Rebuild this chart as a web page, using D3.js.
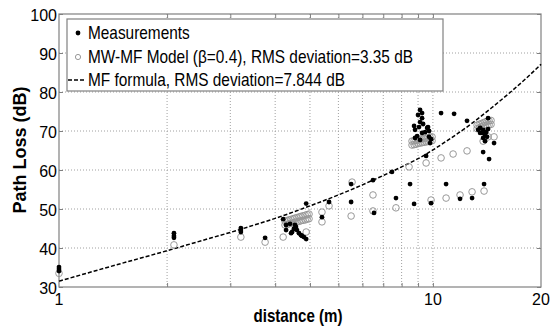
<!DOCTYPE html>
<meta charset="utf-8">
<html>
<head>
<script src="https://d3js.org/d3.v7.min.js"></script>
<style>
  body { margin: 0; background: #fff; }
  text { font-family: "Liberation Sans", Arial, sans-serif; }
</style>
</head>
<body>
<svg id="chart" width="556" height="328"></svg>
<script>
// measured path loss (distance, dB)
var measDist = [1.00,1.00,1.00, 2.09,2.09,2.09, 3.21,3.21,3.21, 3.75, 4.21,
  4.29,4.29,4.40,4.43,4.46,4.51,4.54,4.57,4.60,4.66,4.72,4.75,4.81,4.88,
  4.88, 5.40, 5.65, 6.51, 6.51, 7.49, 7.54, 8.46, 8.68, 9.50, 9.75,
  10.53, 10.87, 11.97, 13.09, 14.14, 15.27, 15.77, 15.18, 16.28,
  11.59, 12.60, 13.69,
  10.13,10.26,10.00,10.26,10.13,10.33,10.06,9.75,10.66,10.73,10.46,10.26,
  9.94,10.73,10.87,9.81,10.80,10.13,9.81,10.60,
  15.08,15.18,14.89,15.37,15.57,15.18,15.67,14.70,15.37,15.67,15.47,14.89];
var measLoss = [35.1,34.6,34.1, 43.8,43.1,42.6, 45.1,44.6,44.1, 42.6, 47.4,
  45.9,44.6,46.2,43.8,44.1,44.9,45.9,45.4,44.6,43.8,43.3,43.1,42.8,42.3,
  51.4, 47.9, 51.8, 51.8, 56.4, 57.4, 49.0, 59.5, 52.8, 56.4, 51.3,
  63.6, 51.5, 56.4, 52.6, 52.8, 56.4, 62.8, 64.6, 66.9,
  74.6, 74.4, 72.6,
  75.4,74.6,74.1,73.3,72.3,71.8,71.0,71.3,71.0,70.0,69.7,69.5,
  68.7,68.5,67.9,68.2,66.9,67.7,70.3,70.8,
  69.5,70.3,69.5,69.0,68.5,68.2,70.5,70.3,67.4,73.3,69.7,70.8];

// MW-MF model (beta = 0.4)
var modelDist = [1.00, 2.09, 3.21, 3.75, 4.21, 4.88, 5.40, 5.40, 5.65, 6.51, 6.55,
  7.49, 7.49, 8.68, 9.44, 10.53, 10.87, 11.59, 11.97, 12.52, 13.09, 13.69,
  14.14, 15.27, 15.18, 15.67, 16.28,
  4.26,4.32,4.37,4.43,4.49,4.54,4.60,4.66,4.72,4.78,4.85,4.91,4.97,
  4.26,4.32,4.37,4.43,4.49,4.54,4.60,4.66,4.72,4.78,4.85,4.91,4.97,
  9.62,9.75,9.87,10.00,10.13,10.26,10.39,10.53,10.66,10.80,10.94,
  9.62,9.75,9.87,10.00,10.13,10.26,10.39,10.53,10.66,10.80,10.94,
  14.60,14.80,14.99,15.18,15.37,15.57,15.77,15.97,
  14.60,14.80,14.99,15.18,15.37,15.57,15.77,15.97];
var modelLoss = [33.5, 40.8, 42.8, 41.5, 42.8, 44.1, 49.2, 46.7, 50.8, 48.2, 56.9,
  53.6, 49.5, 50.3, 60.8, 61.8, 52.3, 63.1, 52.8, 64.1, 53.6, 64.9,
  54.4, 54.6, 67.4, 68.5, 68.5,
  46.9,47.05,47.2,47.35,47.5,47.65,47.8,47.95,48.1,48.25,48.4,48.55,48.7,
  45.9,46.0,46.2,46.3,46.4,46.6,46.7,46.8,47.0,47.1,47.2,47.4,47.5,
  67.4,67.5,67.6,67.8,67.9,68.0,68.1,68.2,68.3,68.4,68.5,
  66.4,66.5,66.6,66.8,66.9,67.0,67.1,67.2,67.3,67.4,67.5,
  71.5,71.7,71.9,72.1,72.3,72.5,72.6,72.7,
  70.6,70.8,71.0,71.2,71.4,71.5,71.6,71.7];

// MF formula curve
var mfDist = [1, 1.5, 2, 2.5, 3, 3.5, 4, 5, 6, 7, 8, 9, 10, 12, 14, 16, 18, 20, 22];
var mfLoss = [31.5, 36.1, 39.3, 41.9, 44.0, 45.9, 47.6, 50.8, 53.6, 56.2, 58.6, 60.8,
  62.9, 67.4, 71.7, 75.9, 79.8, 83.5, 87.1];

var xGrid = [2, 3, 4, 5, 6, 7, 8, 9, 10, 11];
var xTickVals = [1, 11, 22];
var xTickLabels = ["1", "10", "20"];
var yTicks = [30, 40, 50, 60, 70, 80, 90, 100];

var legendLabels = ["Measurements",
  "MW-MF Model (\u03b2=0.4), RMS deviation=3.35 dB",
  "MF formula, RMS deviation=7.844 dB"];

var L = 59, R = 541, T = 14, B = 287;
var svg = d3.select("#chart");

var x = d3.scaleLog().domain([1, 22]).range([L, R]);
var y = d3.scaleLinear().domain([30, 100]).range([B, T]);

var axisCol = "#808080";

// grid
svg.append("g").selectAll("line").data(xGrid).enter().append("line")
  .attr("x1", function(d) { return x(d); }).attr("x2", function(d) { return x(d); })
  .attr("y1", T).attr("y2", B)
  .attr("stroke", "#a0a0a0").attr("stroke-dasharray", "1,2");
svg.append("g").selectAll("line").data(yTicks.slice(1, -1)).enter().append("line")
  .attr("x1", L).attr("x2", R)
  .attr("y1", function(d) { return y(d); }).attr("y2", function(d) { return y(d); })
  .attr("stroke", "#a0a0a0").attr("stroke-dasharray", "1,2");

// axes (box with inward ticks)
svg.append("g").attr("transform", "translate(0," + B + ")")
  .call(d3.axisTop(x).tickValues(xGrid).tickSize(4).tickFormat(""));
svg.append("g").attr("transform", "translate(0," + T + ")")
  .call(d3.axisBottom(x).tickValues(xGrid).tickSize(4).tickFormat(""));
svg.append("g").attr("transform", "translate(" + L + ",0)")
  .call(d3.axisRight(y).tickValues(yTicks).tickSize(4).tickFormat(""));
svg.append("g").attr("transform", "translate(" + R + ",0)")
  .call(d3.axisLeft(y).tickValues(yTicks).tickSize(4).tickFormat(""));
svg.selectAll(".domain").remove();
svg.selectAll(".tick line").attr("stroke", axisCol);
svg.append("rect").attr("x", L).attr("y", T).attr("width", R - L).attr("height", B - T)
  .attr("fill", "none").attr("stroke", axisCol).attr("stroke-width", 1.2);

// tick labels
svg.append("g").selectAll("text").data(yTicks).enter().append("text")
  .attr("x", L - 2).attr("y", function(d) { return y(d) + 6.5; })
  .attr("text-anchor", "end").attr("font-size", "16px").text(function(d) { return d; });
svg.append("g").selectAll("text").data(xTickVals).enter().append("text")
  .attr("x", function(d) { return x(d); }).attr("y", B + 18)
  .attr("text-anchor", "middle").attr("font-size", "16px")
  .text(function(d, i) { return xTickLabels[i]; });

// axis titles
svg.append("text").attr("transform", "translate(26,150) rotate(-90)")
  .attr("text-anchor", "middle").attr("font-size", "18px").attr("font-weight", "bold")
  .text("Path Loss (dB)");
svg.append("text").attr("transform", "translate(298,322) scale(0.84,1)")
  .attr("text-anchor", "middle").attr("font-size", "18px").attr("font-weight", "bold")
  .text("distance (m)");

// MF formula
var line = d3.line().x(function(d) { return x(d[0]); }).y(function(d) { return y(d[1]); })
  .curve(d3.curveMonotoneX);
svg.append("path").datum(d3.zip(mfDist, mfLoss)).attr("d", line)
  .attr("fill", "none").attr("stroke", "#000").attr("stroke-width", 1.5)
  .attr("stroke-dasharray", "4,2");

// model points
svg.append("g").selectAll("circle").data(d3.zip(modelDist, modelLoss)).enter().append("circle")
  .attr("cx", function(d) { return x(d[0]); }).attr("cy", function(d) { return y(d[1]); })
  .attr("r", 3.3).attr("fill", "none").attr("stroke", "#999").attr("stroke-width", 1);

// measurements
svg.append("g").selectAll("circle").data(d3.zip(measDist, measLoss)).enter().append("circle")
  .attr("cx", function(d) { return x(d[0]); }).attr("cy", function(d) { return y(d[1]); })
  .attr("r", 2.4).attr("fill", "#000");

// legend
var lg = svg.append("g");
lg.append("rect").attr("x", 67).attr("y", 19).attr("width", 376).attr("height", 72)
  .attr("fill", "#fff").attr("stroke", axisCol).attr("stroke-width", 1.2);
var rowY = [33, 57, 80];
lg.append("circle").attr("cx", 78).attr("cy", rowY[0]).attr("r", 2.4).attr("fill", "#000");
lg.append("circle").attr("cx", 78).attr("cy", rowY[1]).attr("r", 2.6)
  .attr("fill", "none").attr("stroke", "#999");
lg.append("line").attr("x1", 68).attr("x2", 86).attr("y1", rowY[2]).attr("y2", rowY[2])
  .attr("stroke", "#000").attr("stroke-width", 1.5).attr("stroke-dasharray", "4,2");
lg.selectAll("text.lab").data(legendLabels).enter().append("text")
  .attr("transform", function(d, i) { return "translate(88," + (rowY[i] + 6) + ") scale(0.88,1)"; })
  .attr("font-size", "17.5px").text(function(d) { return d; });
</script>
</body>
</html>
